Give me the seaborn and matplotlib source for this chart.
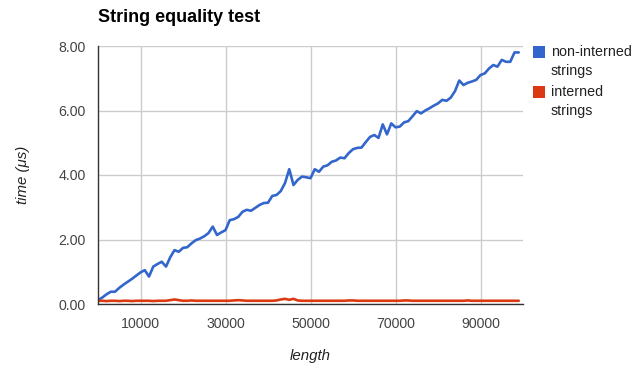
import matplotlib
matplotlib.use("Agg")
import matplotlib.pyplot as plt
import seaborn as sns
import pandas as pd
import numpy as np
from matplotlib.patches import Rectangle

lengths = list(range(0, 100000, 1000))

non_interned = [
    0.12, 0.20, 0.30, 0.38, 0.38, 0.50, 0.60, 0.69, 0.78, 0.88,
    0.98, 1.05, 0.85, 1.16, 1.24, 1.31, 1.16, 1.45, 1.67, 1.62,
    1.74, 1.76, 1.88, 1.98, 2.03, 2.10, 2.20, 2.40, 2.14, 2.22,
    2.29, 2.60, 2.63, 2.70, 2.86, 2.92, 2.89, 2.98, 3.07, 3.13,
    3.14, 3.35, 3.38, 3.50, 3.75, 4.18, 3.69, 3.85, 3.95, 3.93,
    3.90, 4.18, 4.10, 4.26, 4.30, 4.41, 4.45, 4.54, 4.52, 4.68,
    4.80, 4.84, 4.85, 5.02, 5.18, 5.24, 5.15, 5.57, 5.26, 5.60,
    5.48, 5.50, 5.63, 5.67, 5.82, 5.98, 5.91, 6.00, 6.07, 6.15,
    6.22, 6.33, 6.30, 6.40, 6.60, 6.93, 6.79, 6.86, 6.90, 6.95,
    7.10, 7.15, 7.30, 7.41, 7.36, 7.57, 7.51, 7.51, 7.80, 7.80,
]

interned = [
    0.10, 0.10, 0.09, 0.10, 0.10, 0.09, 0.10, 0.10, 0.09, 0.10,
    0.10, 0.10, 0.10, 0.09, 0.10, 0.10, 0.10, 0.12, 0.14, 0.12,
    0.10, 0.10, 0.11, 0.10, 0.10, 0.10, 0.10, 0.10, 0.10, 0.10,
    0.10, 0.10, 0.11, 0.12, 0.11, 0.10, 0.10, 0.10, 0.10, 0.10,
    0.10, 0.10, 0.11, 0.14, 0.16, 0.13, 0.16, 0.11, 0.10, 0.10,
    0.10, 0.10, 0.10, 0.10, 0.10, 0.10, 0.10, 0.10, 0.10, 0.11,
    0.11, 0.10, 0.10, 0.10, 0.10, 0.10, 0.10, 0.10, 0.10, 0.10,
    0.10, 0.10, 0.11, 0.11, 0.10, 0.10, 0.10, 0.10, 0.10, 0.10,
    0.10, 0.10, 0.10, 0.10, 0.10, 0.10, 0.10, 0.11, 0.10, 0.10,
    0.10, 0.10, 0.10, 0.10, 0.10, 0.10, 0.10, 0.10, 0.10, 0.10,
]

series_names = ["non-interned\nstrings", "interned\nstrings"]
colors = ["#3366cc", "#dc3912"]

x_ticks = [10000, 30000, 50000, 70000, 90000]
y_ticks = [0, 2, 4, 6, 8]

df = pd.concat([
    pd.DataFrame({"length": lengths, "time": non_interned, "series": series_names[0]}),
    pd.DataFrame({"length": lengths, "time": interned, "series": series_names[1]}),
])

sns.set_style("white")
plt.rcParams["font.family"] = ["Liberation Sans", "DejaVu Sans"]

W, H = 640, 372
fig = plt.figure(figsize=(6.4, 3.72), dpi=100)
ax = fig.add_axes([98 / W, 1 - 304 / H, (523 - 98) / W, (304 - 46) / H])

sns.lineplot(data=df, x="length", y="time", hue="series", palette=colors,
             linewidth=1.9, ax=ax, legend=False)

ax.set_xlim(0, 100000)
ax.set_ylim(0, 8)
ax.set_xticks(x_ticks)
ax.set_xticklabels([str(t) for t in x_ticks])
ax.set_yticks(y_ticks)
ax.set_yticklabels([f"{t:.2f}" for t in y_ticks])
ax.grid(True, color="#cccccc", linewidth=1)
ax.set_axisbelow(True)
ax.tick_params(axis="both", length=0, labelsize=10.2, labelcolor="#444444")
ax.tick_params(axis="x", pad=9)
ax.tick_params(axis="y", pad=9)

for side in ["top", "right"]:
    ax.spines[side].set_visible(False)
ax.spines["left"].set_color("#333333")
ax.spines["left"].set_linewidth(1)
ax.spines["bottom"].set_color("#333333")
ax.spines["bottom"].set_linewidth(1)

ax.set_xlabel("length", fontstyle="italic", fontsize=10.8, color="#222222", labelpad=13)
ax.set_ylabel("time (μs)", fontstyle="italic", fontsize=10.8, color="#222222", labelpad=20)

fig.text(98 / W, 1 - 18 / H, "String equality test", fontsize=13,
         fontweight="bold", ha="left", va="center", color="#000000")

# legend drawn manually (square aligned with first label line, as in Google Charts)
leg_top = [46, 86]
for name, c, top in zip(series_names, colors, leg_top):
    fig.patches.append(Rectangle((533 / W, 1 - (top + 12) / H), 12 / W, 12 / H,
                                 transform=fig.transFigure, facecolor=c,
                                 edgecolor="none", figure=fig))
    lines = name.split("\n")
    for i, ln in enumerate(lines):
        fig.text(551 / W, 1 - (top + 6 + 18.5 * i) / H, ln, fontsize=10.3,
                 ha="left", va="center", color="#222222")

fig.savefig("out.png", dpi=100, facecolor="white")
